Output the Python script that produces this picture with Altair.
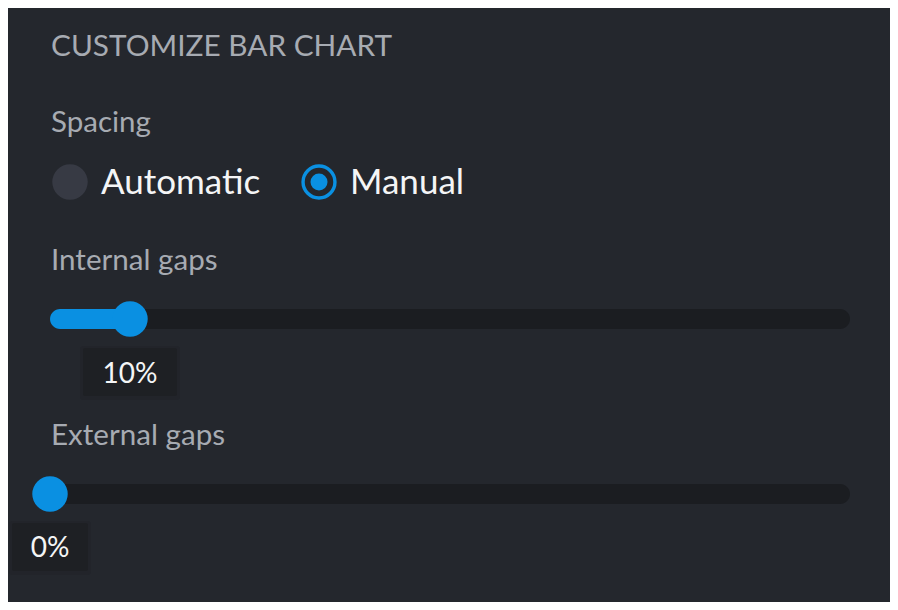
import altair as alt
import pandas as pd

# ---- data ----
heading = ["CUSTOMIZE BAR CHART"]
section_labels = ["Spacing", "Internal gaps", "External gaps"]
radio_options = ["Automatic", "Manual"]
radio_selected = [False, True]
slider_names = ["Internal gaps", "External gaps"]
slider_values = [10, 0]
slider_labels = ["10%", "0%"]

# ---- layout / style (chart coordinates, page minus 8px margin) ----
W, H = 882, 594
BG = "#24272d"
TRACK = "#1b1d21"
BLUE = "#0a90e2"
GREY_TEXT = "#a7abb2"
WHITE = "#f4f5f6"
BOX = "#1e2024"
FONT = "Lato"

LEFT = 43
TITLE_Y = 48
SECTION_Y = [124, 262, 437]
RADIO_Y = 174
RADIO_TEXT_Y = 186
RADIO_X = [62, 311]
SLIDER_Y = [311, 486]
TIP_Y = [340, 515]
TIP_TEXT_Y = [375, 549]
TIP_HALF_W = [47, 38]

xs = alt.Scale(domain=[0, 100], range=[42, 842])

# ---- text labels ----
texts = pd.DataFrame({
    "text": heading + section_labels,
    "x": [LEFT] * 4,
    "y": [TITLE_Y] + SECTION_Y,
    "size": [29.8, 29.5, 29.6, 29.6],
})
text_layer = alt.Chart(texts).mark_text(
    align="left", baseline="alphabetic", font=FONT, color=GREY_TEXT
).encode(
    x=alt.X("x:Q", scale=None, axis=None),
    y=alt.Y("y:Q", scale=None, axis=None),
    text="text:N",
    size=alt.Size("size:Q", scale=None, legend=None),
)

# ---- radio buttons ----
radios = pd.DataFrame({
    "option": radio_options,
    "selected": radio_selected,
    "x": RADIO_X,
})
rbase = alt.Chart(radios)
radio_off = rbase.transform_filter("!datum.selected").mark_circle(
    size=1257, color="#373a44", opacity=1
).encode(x=alt.X("x:Q", scale=None, axis=None), y=alt.value(RADIO_Y))
radio_ring = rbase.transform_filter("datum.selected").mark_point(
    size=1018, filled=False, color=BLUE, strokeWidth=3.4, opacity=1
).encode(x=alt.X("x:Q", scale=None, axis=None), y=alt.value(RADIO_Y))
radio_dot = rbase.transform_filter("datum.selected").mark_circle(
    size=290, color=BLUE, opacity=1
).encode(x=alt.X("x:Q", scale=None, axis=None), y=alt.value(RADIO_Y))
radio_text = rbase.mark_text(
    align="left", baseline="alphabetic", font=FONT, fontSize=35, color=WHITE, dx=31
).encode(x=alt.X("x:Q", scale=None, axis=None), y=alt.value(RADIO_TEXT_Y), text="option:N")

# ---- sliders ----
sliders = pd.DataFrame({"name": slider_names, "value": slider_values, "label": slider_labels})
slider_layers = []
for i, name in enumerate(slider_names):
    base = alt.Chart(sliders).transform_filter(alt.datum.name == name).transform_calculate(
        start="0", end="100"
    )
    cy = SLIDER_Y[i]
    track = base.mark_rect(cornerRadius=10, color=TRACK).encode(
        x=alt.X("start:Q", scale=xs, axis=None), x2="end:Q",
        y=alt.value(cy - 10), y2=alt.value(cy + 10),
    )
    fill = base.mark_rect(cornerRadius=10, color=BLUE).encode(
        x=alt.X("start:Q", scale=xs, axis=None), x2="value:Q",
        y=alt.value(cy - 10), y2=alt.value(cy + 10),
    )
    knob = base.mark_circle(size=1257, color=BLUE, opacity=1).encode(
        x=alt.X("value:Q", scale=xs, axis=None), y=alt.value(cy),
    )
    hw = TIP_HALF_W[i]
    shadow = base.mark_rect(color="#202227", xOffset=-hw - 3, x2Offset=hw + 3, opacity=0.5,
                            cornerRadius=3).encode(
        x=alt.X("value:Q", scale=xs, axis=None), x2="value:Q",
        y=alt.value(TIP_Y[i] - 2), y2=alt.value(TIP_Y[i] + 52),
    )
    box = base.mark_rect(color=BOX, xOffset=-hw, x2Offset=hw, cornerRadius=2).encode(
        x=alt.X("value:Q", scale=xs, axis=None), x2="value:Q",
        y=alt.value(TIP_Y[i]), y2=alt.value(TIP_Y[i] + 48),
    )
    label = base.mark_text(font=FONT, fontSize=28, color=WHITE, baseline="alphabetic", align="center").encode(
        x=alt.X("value:Q", scale=xs, axis=None), y=alt.value(TIP_TEXT_Y[i]), text="label:N",
    )
    slider_layers += [track, fill, knob, shadow, box, label]

slider_group = alt.layer(*slider_layers)
radio_group = alt.layer(radio_off, radio_ring, radio_dot, radio_text)

chart = alt.layer(text_layer, radio_group, slider_group).resolve_scale(
    x="independent", y="independent", size="independent"
).properties(
    width=W, height=H, padding=0, background=BG
).configure_view(strokeWidth=0)

chart.save("out.html", embed_options={"renderer": "svg", "actions": False})
